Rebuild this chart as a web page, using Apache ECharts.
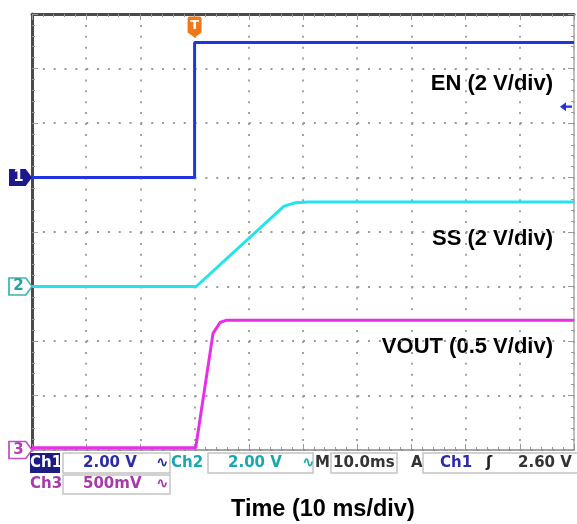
<!DOCTYPE html>
<html>
<head>
<meta charset="utf-8">
<script src="https://cdn.jsdelivr.net/npm/echarts@6/dist/echarts.min.js"></script>
<style>
  html, body { margin: 0; padding: 0; background: #fff; }
  #scope { width: 577px; height: 524px; }
</style>
</head>
<body>
<div id="scope"></div>
<script>
// time in ms from left edge of screen (10 ms/div), values in volts
var enTime = [0, 30, 30, 100];
var enVolt = [0, 0, 4.95, 4.95];

var ssTime = [0, 30.3, 46.5, 48.5, 51, 100];
var ssVolt = [0, 0, 2.95, 3.07, 3.1, 3.1];

var voutTime = [0, 30.2, 33.4, 34.7, 35.8, 100];
var voutVolt = [0.02, 0.02, 1.07, 1.17, 1.19, 1.19];

var triggerTime = 30;
var triggerLevel = 2.6;

var traceLabels = ['EN (2 V/div)', 'SS (2 V/div)', 'VOUT (0.5 V/div)'];

var cBlue = '#2233e0', cCyan = '#22e4ec', cMag = '#e82ee8';

function pairs(t, v) {
  return t.map(function (x, i) { return [x, v[i]]; });
}

var chartDom = document.getElementById('scope');
var myChart = echarts.init(chartDom);
var option;

function groundMark(txt, fill, stroke, color, v) {
  return {
    silent: true,
    animation: false,
    data: [{
      coord: [0, v],
      symbol: 'path://M0,0 H16 L22,8 L16,16 H0 Z',
      symbolSize: [23, 17],
      symbolOffset: [-11.5, 0],
      itemStyle: { color: fill, borderColor: stroke, borderWidth: 1.5 },
      label: {
        show: true, position: 'inside', formatter: txt, offset: [-2, 0],
        color: color, fontWeight: 'bold', fontSize: 15, fontFamily: 'DejaVu Sans'
      }
    }]
  };
}

var dotted = function (period) { return [2, period - 2]; };

var statusFont = 'bold 15px "DejaVu Sans"';
function stxt(x, y, s, fill) {
  return { type: 'text', x: x, y: y, style: { text: s, fill: fill, font: statusFont, textVerticalAlign: 'middle' } };
}
function sbox(x, y, w, h) {
  return { type: 'rect', shape: { x: x, y: y, width: w, height: h }, style: { fill: 'none', stroke: '#c4c4c4', lineWidth: 1.5 } };
}

option = {
  animation: false,
  backgroundColor: '#fff',
  grid: { left: 32, top: 14, right: 3, bottom: 74, outerBoundsMode: 'none' },
  xAxis: [
    {
      type: 'value', min: 0, max: 100, interval: 10, position: 'bottom',
      axisLine: { show: true, onZero: false, lineStyle: { color: '#888', width: 1.5 } },
      axisTick: { show: true, inside: true, length: 6, lineStyle: { color: '#999' } },
      minorTick: { show: true, splitNumber: 5, length: 3, lineStyle: { color: '#999' } },
      axisLabel: { show: false },
      splitLine: { show: true, lineStyle: { color: '#999', width: 1.8, type: dotted(10.9) } }
    },
    {
      type: 'value', min: 0, max: 100, interval: 10, position: 'top',
      axisLine: { show: true, onZero: false, lineStyle: { color: '#4a4a4a', width: 3 } },
      axisTick: { show: true, inside: true, length: 6, lineStyle: { color: '#999' } },
      minorTick: { show: true, splitNumber: 5, length: 3, lineStyle: { color: '#999' } },
      axisLabel: { show: false },
      splitLine: { show: false }
    }
  ],
  yAxis: [
    {
      type: 'value', min: 0, max: 8, interval: 1, position: 'left',
      axisLine: { show: true, onZero: false, lineStyle: { color: '#4a4a4a', width: 3 } },
      axisTick: { show: true, inside: true, length: 6, lineStyle: { color: '#999' } },
      minorTick: { show: true, splitNumber: 5, length: 3, lineStyle: { color: '#999' } },
      axisLabel: { show: false },
      splitLine: { show: true, lineStyle: { color: '#999', width: 1.8, type: dotted(10.84) } }
    },
    {
      type: 'value', min: 0, max: 8, interval: 1, position: 'right',
      axisLine: { show: true, onZero: false, lineStyle: { color: '#aaa', width: 1.5 } },
      axisTick: { show: true, inside: true, length: 6, lineStyle: { color: '#999' } },
      minorTick: { show: true, splitNumber: 5, length: 3, lineStyle: { color: '#999' } },
      axisLabel: { show: false },
      splitLine: { show: false }
    },
    // ch1: 2 V/div, ground 5 div up
    { type: 'value', min: -10, max: 6, show: false },
    // ch2: 2 V/div, ground 3 div up
    { type: 'value', min: -6, max: 10, show: false },
    // ch3: 0.5 V/div, ground at bottom
    { type: 'value', min: 0, max: 4, show: false }
  ],
  series: [
    {
      name: 'EN', type: 'line', yAxisIndex: 2, showSymbol: false,
      data: pairs(enTime, enVolt),
      lineStyle: { color: cBlue, width: 3 }, itemStyle: { color: cBlue },
      markPoint: {
        silent: true,
        animation: false,
        data: [
          {
            coord: [0, 0],
            symbol: 'path://M0,0 H16 L22,8 L16,16 H0 Z',
            symbolSize: [23, 17], symbolOffset: [-11.5, 0],
            itemStyle: { color: '#1a1a8a' },
            label: { show: true, position: 'inside', formatter: '1', offset: [-2, 0], color: '#fff', fontWeight: 'bold', fontSize: 15, fontFamily: 'DejaVu Sans' }
          },
          {
            coord: [triggerTime, 6],
            symbol: 'path://M0,2 Q0,0 2,0 H11 Q13,0 13,2 V13 L6.5,17 L0,13 Z',
            symbolSize: [14, 21], symbolOffset: [0, 13],
            itemStyle: { color: '#f07818' },
            label: { show: true, position: 'inside', formatter: 'T', offset: [0, -1], color: '#fff', fontWeight: 'bold', fontSize: 13, fontFamily: 'DejaVu Sans' }
          },
          {
            coord: [100, triggerLevel],
            symbol: 'path://M0,4 L5,0 V3 H10 V5 H5 V8 Z',
            symbolSize: [12, 9], symbolOffset: [-8, 0],
            itemStyle: { color: cBlue },
            label: { show: false }
          }
        ]
      }
    },
    {
      name: 'SS', type: 'line', yAxisIndex: 3, showSymbol: false,
      data: pairs(ssTime, ssVolt),
      lineStyle: { color: cCyan, width: 3 }, itemStyle: { color: cCyan },
      markPoint: groundMark('2', '#fff', '#3cb4b4', '#2aa0a0', 0)
    },
    {
      name: 'VOUT', type: 'line', yAxisIndex: 4, showSymbol: false,
      data: pairs(voutTime, voutVolt),
      lineStyle: { color: cMag, width: 3 }, itemStyle: { color: cMag },
      markPoint: groundMark('3', '#fff', '#c050c0', '#b040b0', 0)
    }
  ],
  graphic: [
    { type: 'text', right: 24, top: 73, style: { text: traceLabels[0], fill: '#000', font: 'bold 22px "Liberation Sans"' } },
    { type: 'text', right: 24, top: 228, style: { text: traceLabels[1], fill: '#000', font: 'bold 22px "Liberation Sans"' } },
    { type: 'text', right: 24, top: 336, style: { text: traceLabels[2], fill: '#000', font: 'bold 22px "Liberation Sans"' } },
    { type: 'text', left: 231, top: 498, style: { text: 'Time (10 ms/div)', fill: '#000', font: 'bold 23.5px "Liberation Sans"' } },
    // status bar
    { type: 'rect', shape: { x: 30, y: 453, width: 30, height: 20 }, style: { fill: '#1c1c84' } },
    stxt(30, 463, 'Ch1', '#fff'),
    sbox(63, 453, 107, 20),
    stxt(83, 463, '2.00 V', '#2c2ca8'),
    stxt(156, 463, '\u223F', '#2c2ca8'),
    stxt(171, 463, 'Ch2', '#1aa8b0'),
    sbox(208, 453, 105, 20),
    stxt(228, 463, '2.00 V', '#1aa8b0'),
    stxt(302, 463, '\u223F', '#1aa8b0'),
    stxt(315, 463, 'M', '#333'),
    sbox(331, 453, 66, 20),
    stxt(333, 463, '10.0ms', '#333'),
    stxt(411, 463, 'A', '#333'),
    sbox(423, 453, 156, 20),
    stxt(440, 463, 'Ch1', '#2c2ca8'),
    stxt(486, 463, '\u0283', '#222'),
    stxt(518, 463, '2.60 V', '#333'),
    stxt(30, 484, 'Ch3', '#a83aa8'),
    sbox(63, 475, 107, 19),
    stxt(83, 484, '500mV', '#a83aa8'),
    stxt(156, 484, '\u223F', '#a83aa8')
  ]
};

option && myChart.setOption(option);
</script>
</body>
</html>
